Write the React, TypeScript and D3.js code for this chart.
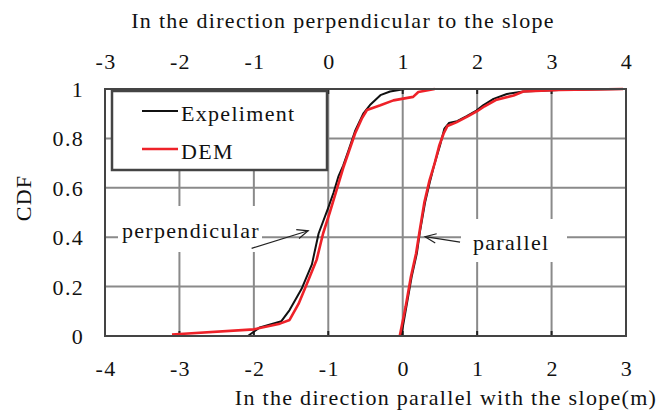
import React from 'react';
import * as d3 from 'd3';

// CDF of displacement, perpendicular (top axis) and parallel (bottom axis)
const perpExperiment: [number, number][] = [
  [-1.08, 0], [-0.92, 0.035], [-0.63, 0.06], [-0.52, 0.105], [-0.36, 0.19], [-0.22, 0.29],
  [-0.13, 0.415], [0.0, 0.52], [0.07, 0.58], [0.135, 0.645], [0.2, 0.69], [0.27, 0.75],
  [0.36, 0.83], [0.47, 0.9], [0.56, 0.935], [0.7, 0.975], [0.83, 0.99], [1.03, 1.0]
];
const perpDEM: [number, number][] = [
  [-2.1, 0.006], [-1.0, 0.027], [-0.65, 0.05], [-0.52, 0.065], [-0.4, 0.13], [-0.29, 0.21],
  [-0.155, 0.31], [-0.07, 0.415], [0.02, 0.5], [0.11, 0.59], [0.2, 0.68], [0.28, 0.75],
  [0.36, 0.82], [0.45, 0.88], [0.52, 0.915], [0.7, 0.934], [0.875, 0.954], [1.14, 0.968],
  [1.21, 0.988], [1.43, 1.0]
];
const paraExperiment: [number, number][] = [
  [-0.02, 0], [0.05, 0.12], [0.12, 0.24], [0.19, 0.335], [0.23, 0.42], [0.3, 0.54],
  [0.37, 0.63], [0.43, 0.7], [0.5, 0.77], [0.56, 0.84], [0.62, 0.862], [0.73, 0.87],
  [0.86, 0.89], [0.99, 0.913], [1.08, 0.934], [1.22, 0.96], [1.4, 0.98], [1.62, 0.99],
  [2.1, 0.996], [2.96, 1.0]
];
const paraDEM: [number, number][] = [
  [-0.04, 0], [0.04, 0.12], [0.11, 0.24], [0.18, 0.335], [0.23, 0.43], [0.29, 0.54],
  [0.36, 0.63], [0.43, 0.7], [0.49, 0.77], [0.55, 0.82], [0.6, 0.85], [0.72, 0.865],
  [0.88, 0.89], [1.0, 0.91], [1.1, 0.93], [1.25, 0.955], [1.49, 0.974], [1.62, 0.99],
  [2.1, 0.996], [2.96, 1.0]
];

const bottomTicks = [-4, -3, -2, -1, 0, 1, 2, 3];
const topTicks = [-3, -2, -1, 0, 1, 2, 3, 4];
const yTicks = [0, 0.2, 0.4, 0.6, 0.8, 1];
const legendItems = [
  { label: 'Expeliment', color: '#111111' },
  { label: 'DEM', color: '#ee2229' }
];

const FONT = "'Liberation Serif', 'Times New Roman', serif";

// the source picture is stretched sideways, so text gets a little letter spacing
const Txt = ({ x, y, anchor = 'start', size = 22, rotate = 0, children }: any) => (
  <text
    transform={`translate(${x},${y})${rotate ? ` rotate(${rotate})` : ''}`}
    textAnchor={anchor}
    style={{ fontFamily: FONT, fontSize: size, letterSpacing: '1.3px' }}
    fill="#111"
  >
    {children}
  </text>
);

const App = () => {
  const width = 669;
  const height = 413;
  const left = 105, right = 626, top = 89, bottom = 336;

  const xB = d3.scaleLinear().domain([-4, 3]).range([left, right]);
  const xT = d3.scaleLinear().domain([-3, 4]).range([left, right]);
  const y = d3.scaleLinear().domain([0, 1]).range([bottom, top]);

  const lineT = d3.line<[number, number]>().x(d => xT(d[0])).y(d => y(d[1]));
  const lineB = d3.line<[number, number]>().x(d => xB(d[0])).y(d => y(d[1]));

  const grid = '#8a8a8a';

  // annotation arrows (data units)
  const perpTail = [xT(-1.03), y(0.355)], perpTip = [xT(-0.27), y(0.426)];
  const paraTail = [xB(0.77), y(0.38)], paraTip = [xB(0.3), y(0.402)];

  const arrowHead = (tail: number[], tip: number[]) => {
    const a = Math.atan2(tip[1] - tail[1], tip[0] - tail[0]);
    const L = 12, w = 0.4;
    const p1 = [tip[0] - L * Math.cos(a - w), tip[1] - L * Math.sin(a - w)];
    const p2 = [tip[0] - L * Math.cos(a + w), tip[1] - L * Math.sin(a + w)];
    return `M${p1[0]},${p1[1]}L${tip[0]},${tip[1]}L${p2[0]},${p2[1]}`;
  };

  return (
    <svg width={width} height={height} style={{ position: 'absolute', left: 0, top: 0, background: '#fff' }}>
      <rect x={0} y={0} width={width} height={height} fill="#fff" />

      {/* grid */}
      {bottomTicks.slice(1, -1).map(t => (
        <line key={'v' + t} x1={xB(t)} x2={xB(t)} y1={top} y2={bottom} stroke={grid} strokeWidth={2} />
      ))}
      {yTicks.slice(1, -1).map(t => (
        <line key={'h' + t} x1={left} x2={right} y1={y(t)} y2={y(t)} stroke={grid} strokeWidth={2} />
      ))}

      {/* white boxes behind annotation labels */}
      <rect x={118} y={206} width={144} height={46} fill="#fff" />
      <rect x={461} y={219} width={106} height={43} fill="#fff" />

      {/* small ticks */}
      {bottomTicks.map(t => (
        <g key={'tk' + t}>
          <line x1={xB(t)} x2={xB(t)} y1={bottom} y2={bottom - 5} stroke="#222" strokeWidth={2} />
          <line x1={xB(t)} x2={xB(t)} y1={top} y2={top + 5} stroke="#222" strokeWidth={2} />
        </g>
      ))}

      {/* curves */}
      <path d={lineT(perpExperiment) || ''} fill="none" stroke="#111" strokeWidth={2} strokeLinejoin="round" />
      <path d={lineB(paraExperiment) || ''} fill="none" stroke="#111" strokeWidth={2} strokeLinejoin="round" />
      <path d={lineT(perpDEM) || ''} fill="none" stroke="#ee2229" strokeWidth={2.6} strokeLinejoin="round" />
      <path d={lineB(paraDEM) || ''} fill="none" stroke="#ee2229" strokeWidth={2.6} strokeLinejoin="round" />

      {/* frame */}
      <rect x={left} y={top} width={right - left} height={bottom - top} fill="none" stroke="#444" strokeWidth={2} />

      {/* legend */}
      <rect x={112} y={91} width={215} height={79} fill="#fff" stroke="#444" strokeWidth={2.5} />
      {legendItems.map((d, i) => (
        <g key={d.label}>
          <line x1={142} x2={178} y1={111 + i * 38} y2={111 + i * 38} stroke={d.color} strokeWidth={d.color === '#111111' ? 2 : 2.6} />
          <Txt x={181} y={121 + i * 38}>{d.label}</Txt>
        </g>
      ))}

      {/* annotations */}
      <Txt x={122} y={238}>perpendicular</Txt>
      <line x1={perpTail[0]} y1={perpTail[1]} x2={perpTip[0]} y2={perpTip[1]} stroke="#222" strokeWidth={1.2} />
      <path d={arrowHead(perpTail, perpTip)} fill="none" stroke="#222" strokeWidth={1.2} />
      <Txt x={473} y={250}>parallel</Txt>
      <line x1={paraTail[0]} y1={paraTail[1]} x2={paraTip[0]} y2={paraTip[1]} stroke="#222" strokeWidth={1.2} />
      <path d={arrowHead(paraTail, paraTip)} fill="none" stroke="#222" strokeWidth={1.2} />

      {/* axes labels */}
      {yTicks.map(t => (
        <Txt key={'yl' + t} x={84} y={y(t) + 8} anchor="end">{String(t)}</Txt>
      ))}
      {bottomTicks.map(t => (
        <Txt key={'bl' + t} x={xB(t) + 1} y={376} anchor="middle">{String(t)}</Txt>
      ))}
      {topTicks.map(t => (
        <Txt key={'tl' + t} x={xT(t) + 1} y={69} anchor="middle">{String(t)}</Txt>
      ))}

      <Txt x={343} y={28} anchor="middle">In the direction perpendicular to the slope</Txt>
      <Txt x={446} y={405} anchor="middle">In the direction parallel with the slope(m)</Txt>
      <Txt x={31} y={198} anchor="middle" rotate={-90}>CDF</Txt>
    </svg>
  );
};

export default App;
